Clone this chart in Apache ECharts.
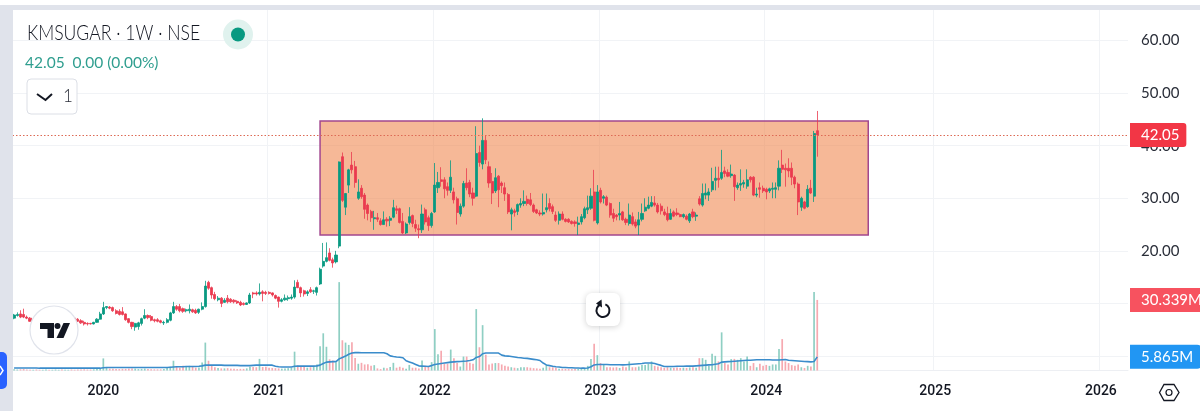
<!DOCTYPE html>
<html>
<head>
<meta charset="utf-8">
<style>
  html, body { margin: 0; padding: 0; background: #fff; }
  #chart { width: 1200px; height: 411px; }
</style>
<script src="https://cdn.jsdelivr.net/npm/echarts@6/dist/echarts.min.js"></script>
</head>
<body>
<div id="chart"></div>
<script>
// weekly bars as [open, close, low, high]
const candles = [
  [7.2,7.8,7,8],[7.7,7.9,7.5,8.3],[8,7.4,7.2,8.7],[7.9,7.4,7.2,9],[7.4,7.2,7,7.7],[7.2,6.6,6.5,7.4],
  [6.6,6.8,6.4,7],[6.8,6.5,6.3,7],[6.5,6.3,6.1,6.7],[6.3,6.5,6.1,6.7],[6.5,6.7,6.3,7],[6.7,6.4,6.2,6.9],[6.4,6.6,6.2,6.8],[6.6,6.9,6.4,7.1],
  [6.9,7.1,6.7,7.3],[7.1,6.9,6.7,7.3],[6.9,7.2,6.7,7.4],[7.2,7.4,7,7.6],[7.4,7.2,7,7.6],[7.2,7.1,6.9,7.4],
  [7,6.6,6.5,7.2],[6.7,6.3,6.1,7],[6.4,6.1,5.8,6.7],[6.2,6.1,5.8,6.4],[6.2,6.1,6,6.3],[6.1,6.4,6,6.5],[6.4,7,6.3,7.2],[7,8,6.9,8.4],
  [8,9.2,7.8,10.3],[9.2,9.4,8.9,9.5],[9.3,9.1,8.9,9.5],[9.2,8.6,8.4,9.4],[8.6,8.1,7.9,8.9],[8.5,7.9,7.7,8.9],[8.4,7.9,7.7,9.3],[8,6.9,6.7,8.1],
  [7.1,6.4,6.2,7.2],[6.4,5.6,5.1,6.5],[5.5,6.2,4.8,6.3],[5.6,6.3,5,6.5],[6.2,7.1,5.8,7.3],[7.2,7.7,7,8.9],[7.7,7.3,7,7.9],[7.5,6.8,6.6,7.8],
  [6.9,6.7,6.4,7.1],[6.9,6.6,6.4,7.2],[6.7,6.4,6.2,6.9],[6.3,6.4,5.9,6.7],[6.4,6.9,6.2,7.2],[6.8,8.2,6.6,8.4],[8.2,9.4,8,10.3],[9.4,8.9,8.6,9.7],
  [9.4,8.6,8.3,9.9],[9,8.5,8.2,9.2],[8.6,8.8,8.3,9],[8.6,8.9,8.1,9.8],[8.8,8.4,8.2,9],[8.7,8.2,8,9],[8.3,8.9,8,9],[8.9,9.4,8.7,10.2],
  [9.4,13.3,9.2,14.3],[14,12.9,12.6,14.3],[13,11.6,10.9,13.2],[11.7,10.9,10.6,12.2],[10.7,11,10.4,11.4],[11,10,9.3,11.2],[10.2,10.6,10.1,11],[11,10.3,10,11.6],
  [10.8,10.3,10.1,11],[10.6,10.3,10,10.8],[10.4,10.1,9.9,10.6],[10.2,9.7,9.5,10.5],[10,9.8,9.6,10.2],[9.8,10.1,9.7,10.2],[10.1,11.6,9.9,12],[12,11.8,11,12.2],
  [12,11.8,11.5,12.3],[11.8,12.1,11.5,13.8],[12.2,11.9,10.4,12.5],[12.1,11.9,11.6,12.4],[12.1,11.9,11.7,12.3],[12,11.6,11.3,12.1],[11.5,11,10.8,11.7],[11.2,10.4,9.2,11.3],
  [10.4,10.7,10.2,11],[10.7,11,10.5,11.7],[10.9,11.1,10.5,11.5],[11,11.2,10.7,11.7],[11.2,13.1,10.9,14.4],[14,13,12.9,14.5],[13,12,11.2,13.2],[12.4,11.8,11.3,12.6],
  [11.9,12.2,11.4,12.5],[12.6,12.2,12,13.1],[12.3,12.4,11.8,12.6],[12.1,13,11.5,13.2],[13.7,16.5,13.5,16.8],[17.1,18,16.8,21.5],[18,18.7,17.8,21.6],[19.6,18.2,18,20.5],
  [18.3,17.7,16.8,18.7],[17.9,19.2,17.6,20],
  [20.9,36.9,20.5,37],[37.9,29.6,29.3,38.7],[28.3,30.9,26.8,31],[32.5,35.4,31,35.6],[36.3,35.4,34.7,38.8],[36,33,32,37.1],[30,31.2,29.7,33.6],[31.9,30.3,29.9,32.5],
  [30.6,27.9,26.1,31],[28.7,27.1,25.8,29],[27.5,26.3,25.5,27.8],[26.1,26.3,24,27.6],[26.3,26,25.5,27.2],[25.7,25,24.8,26.2],[25,25.9,25,27.5],[26,25.7,24.6,26.4],
  [25.8,26.2,24.7,26.6],[26.4,28.2,26.2,29.7],[28,27.7,27,28.6],[28,25.4,25.2,28.2],[25.6,23.4,23.2,27.2],[23.4,25.1,23.2,25.4],[25.4,26.5,25,28.3],[26.7,25.2,24.5,26.9],
  [25,24.3,23.6,25.9],[24.2,24,22.4,25],[24,27,23.4,28.8],[27.8,25.5,25,28.2],[26.3,24.8,23.8,26.7],[24.8,27.1,24.4,27.4],[27.4,32.5,27.2,36.7],[32,33,31,35],
  [33.5,33.2,32.2,35.9],[33.5,31.8,30,34],[32.2,31.5,30.5,33],[31.5,34,31,37.2],[31.2,29.7,29,32],[29.9,27.3,25,30.3],[27,28.5,26.5,29],[28.5,32.8,28.2,33.3],
  [32.9,32,31.5,35.7],[33,30.8,30.2,33.5],[31,30,28.6,32],[30.4,38.5,30.2,43.7],[38.7,36.8,36,40],[36.5,41,35.5,45.2],[41,37.3,36.5,42],[36,32.9,32,37],
  [33.2,31,28.9,34.8],[31.4,33.9,31,35.7],[34.2,31.6,28.3,34.4],[32.9,32.4,31,33.2],[32,30.8,29.5,33],[30.7,27.4,27,31],[27,27.8,23.9,28.2],[27.6,27.3,26.5,28],
  [27.5,28.8,26.8,29],[28.7,29,28.2,30],[29,29.4,28.5,31.5],[29.8,29,28.6,30.5],[29.7,28.8,28.5,31],[28.7,27.5,27.2,29],[27.8,27.2,27,28],[27.2,27,26.6,27.7],
  [27,27.3,26.7,30.9],[27.8,28.2,27.3,30.9],[29,28,27.5,30],[28.4,27.5,27,28.8],[26.8,25.8,25.5,27.5],[25.8,27,25,27.5],[27,26,25.8,27.5],[26,25.6,25.4,26.2],
  [26,25.5,25.3,26.2],[25.6,25.2,25,25.8],[25.5,25.2,24.6,25.8],[25,25.3,23,26.5],[25.5,26.5,25,27],[26.3,28,26,28.4],[27.8,28.2,27,30.5],[28.1,30.4,27.8,31.9],
  [31.2,25.8,25.6,35.4],[25.3,31.2,25,32.5],[31.5,29.3,29,32],[30,30.3,29,30.6],[30.2,28.7,28.5,30.5],[29,26.8,26.3,29.2],[27.1,26.2,25.5,28],[26.8,26.5,25.8,27],
  [26.8,27.1,25.8,29.3],[27.4,25.9,25.7,27.6],[26,25.4,24.9,26.3],[25.2,26.8,24.8,29],[26.5,25.1,24.8,27.3],[25.5,24.7,24.3,26],[24.9,25.9,23,27.4],[26,27.1,25.6,29],
  [27.6,28.3,27.4,30],[28.1,28.7,27.9,30.3],[28.5,29.2,28.3,30.4],[29.1,28.7,28.4,30.4],[28.7,27.4,27.1,29.1],[28.5,27.6,26.9,29],[27.4,26.9,26.6,28],[27.1,25.9,25.6,28.4],
  [26,27.1,25.9,28],[27.4,26.6,26.4,27.7],[27.2,26.9,26.6,28.1],[26.9,26.5,26.4,27.1],[26.5,26.9,26.2,27.1],[26.6,26,25.8,26.9],[25.7,27,25.3,27.2],[27.4,26.5,26.2,28],
  [26.6,26.8,25.7,27.3],[29.9,28.9,28.6,30.4],[28.7,30.9,28.4,32.8],[30.6,31,29.8,32.8],[30.6,31.2,29.5,31.9],[31.6,33.2,31.2,35.8],[33.4,33.8,31.5,36],[33.8,33.5,32,36],
  [33.8,34.9,33.5,39.2],[35.2,34.7,34,36],[34.9,34.2,34,35.5],[34.3,34.6,33.9,36.4],[34.4,32.2,29.5,34.6],[32,32.5,31.6,33],[32.5,32.8,31.4,35.5],[32.7,33,32,33.5],
  [32.3,33.5,31.8,35.5],[34,33.5,33,34.2],[34,30.6,30.4,34.2],[30.6,30.8,30.2,32],[32,31.7,30.1,33],[31.9,31.4,31,32.4],[31.7,31.2,29.8,32],[31.4,31.8,31,32],
  [31.7,31.9,30,33],[31.7,32,30,33],[32.3,35.7,31.5,37.2],[36.3,35.5,34.8,39.2],[35.7,35.4,32.2,36.6],[35.7,35.2,34,37.6],[35.7,34,32.5,36.8],[34,32.7,31.9,34.3],
  [32.7,29.3,26.8,33],[28.3,30,27.6,30.3],[29.3,28.1,27.9,29.5],[28.4,31.7,28.2,32.5],[31.9,31,30.8,33.5],[30.4,42.3,29.3,42.8],[42.85,42.05,37.9,46.6]
];

// volume in millions
const volumes = [
  0.5,0.4,0.5,0.6,0.4,0.3,0.3,0.4,0.3,0.3,0.4,0.3,0.3,0.4,0.3,0.4,0.3,0.3,0.4,0.3,0.4,0.4,0.5,0.4,0.4,0.5,0.6,0.9,
  5.2,1.2,0.8,0.7,0.6,0.6,0.7,0.7,0.8,0.9,0.8,0.6,0.7,0.8,0.6,0.5,0.5,0.5,0.5,0.6,1.1,1.6,4.2,1.6,1.2,2,1.5,2,1.6,1.2,1.3,3.4,
  12,4.2,2.2,1.4,1.1,0.9,0.9,1,0.8,0.8,0.6,0.7,0.7,0.9,1.6,1.5,1.4,5,1.5,1.6,1.2,1.1,1,0.9,0.8,0.9,1,1.2,8.1,2.2,1.6,1.5,1.2,1.4,1.5,2.6,
  10.4,16,10.2,4.8,4.3,3.6,38,13,12,11,12.2,5.4,2.9,3.3,2.6,2.7,2,2.3,0.9,0.6,1.2,1,1.5,3.3,1.2,1.6,1.2,0.7,2.4,1.2,1.2,0.9,4.3,2,1.7,3.6,
  17.8,7,8.5,3,2.9,9,5.3,3.2,1.7,6,6,3.3,2.9,26.4,10,19.5,6.8,2.6,3,3.2,3.2,2.6,2,1.7,1.4,1.2,1,1.4,1.4,1.4,1.2,1,0.9,0.7,1.2,2.5,1.4,1.4,1.2,
  0.8,0.7,0.7,0.6,0.6,0.6,0.7,0.8,1,2,4.9,11.5,6.6,3.2,2.4,1.4,1.4,1.3,1.4,1.1,1.7,1.4,3.9,1.4,1.4,1.7,2.4,2.4,2.9,3.9,2,1.7,1.4,1.1,1.4,1.2,1.1,1.3,1.1,1.2,1.1,1.3,1.4,1.2,
  5.3,5.3,4.6,2,7.2,6.3,3.9,16.4,3.2,2.6,4.9,5,4.6,5.3,3.9,6,2,3.2,1.4,2.9,2,2.4,2,2.6,2.6,9.2,13.5,3.9,3.2,2.3,2,2.6,1.4,1.1,2,1.7,33.8,30.339
];

// 20 week average of the volume, in millions
const volumeAvg = [
  1.1,1.1,1.1,1.1,1.1,1.1,1.1,1.1,1,1,1,1,1,1,1,1,1,1,1,1,1,1,1,1,1,1,1,1,
  1.2,1.3,1.3,1.3,1.3,1.3,1.3,1.3,1.3,1.3,1.3,1.3,1.3,1.3,1.3,1.3,1.3,1.3,1.3,1.3,1.3,1.4,1.5,1.6,1.6,1.6,1.7,1.7,1.7,1.7,1.8,2,
  2.3,2.3,2.3,2.3,2.3,2.3,2.2,2.2,2.2,2.2,2.2,2.1,2.1,2.1,2.1,2.2,2.3,2.3,2.3,2.3,2.3,2.3,1.8,1.6,1.5,1.5,1.5,1.5,1.8,1.9,1.9,1.9,1.9,1.9,1.9,2,
  2.3,3,3.6,3.7,3.8,3.8,5,5.6,6.2,7,7.5,7.7,7.7,7.6,7.6,7.6,7.6,7.6,7.6,7.6,7.6,7.2,6.3,6,5.8,5.7,5.5,4.2,3.7,3.2,2.6,2,1.9,1.8,1.7,2.1,
  2.6,2.8,3,3.2,3.4,3.6,3.7,3.8,3.9,4,4.1,4.3,4.6,5.6,6,7.2,7.5,7.5,7.5,7.5,7.5,6.6,6.3,6.2,6,5.8,5.6,5.5,5.3,5.2,5,4.8,4.6,4.3,3.2,2.4,2.1,1.8,1.6,
  1.5,1.3,1.3,1.2,1.2,1.1,1.1,1,1,1.1,1.6,2.4,2.6,2.6,2.6,2.6,2.5,2.5,2.5,2.5,2.4,2.5,2.6,2.7,2.8,2.9,3,3.2,3.2,3.2,3,2.6,2.2,1.7,1.7,1.7,1.7,1.8,1.8,1.8,1.9,1.9,1.9,2,
  2.1,2.2,2.3,2.4,2.5,2.7,2.9,3.6,3.7,3.8,3.9,4,4.1,4.2,4.3,4.4,4.4,4.5,4.6,4.6,4.6,4.6,4.6,4.5,4.5,4.5,4.6,4.7,4.4,4.3,4.2,4.1,4,3.9,3.8,3.7,3.9,5.865
];

const weekCount = 350;
const firstWeek = Date.UTC(2019, 5, 24);
const weeks = [];
for (let i = 0; i < weekCount; i++) {
  weeks.push(new Date(firstWeek + i * 7 * 86400000).toISOString().slice(0, 10));
}

const priceTicks = ['20.00', '30.00', '40.00', '50.00', '60.00'];
const lastPrice = 42.05;
const lastVolume = 30.339;
const lastAvg = 5.865;
// the drawn rectangle: two weeks and two prices
const boxWeeks = [96, 268];
const boxPrices = [23, 44.7];

const upColor = '#089981';
const downColor = '#ea3a4f';
const textColor = '#131722';
const gridColor = '#f1f3f6';
const bandColor = '#e0e3eb';
const axisFont = 'Lato';

// first bar of a new year gets the tick and the gridline
function isYearStart(index) {
  if (index === 0) return false;
  return weeks[index].slice(0, 4) !== weeks[index - 1].slice(0, 4);
}

const volumeBars = volumes.map(function (v, i) {
  const up = candles[i][1] >= candles[i][0];
  return { value: v, itemStyle: { color: up ? '#8fcfc3' : '#f6a9b0' } };
});

// price tag sitting right of the plot, at the end of a mark line
function tagLabel(text, fill, padding, radius) {
  return {
    position: 'end', distance: 2, align: 'left', verticalAlign: 'middle',
    formatter: text, color: '#fff', backgroundColor: fill,
    fontFamily: axisFont, fontSize: 15, padding: padding, borderRadius: radius
  };
}

const chart = echarts.init(document.getElementById('chart'), null, { renderer: 'canvas' });

chart.setOption({
  animation: false,
  backgroundColor: '#fff',
  textStyle: { fontFamily: 'Lato' },
  grid: [
    { left: 12.5, right: 72, top: 40.5, bottom: 55 },
    { left: 12.5, right: 72, top: 10, bottom: 40.5 }
  ],
  xAxis: [
    {
      type: 'category', gridIndex: 0, data: weeks, boundaryGap: true,
      axisLine: { show: false }, axisTick: { show: false }, axisLabel: { show: false }, splitLine: { show: false }
    },
    {
      type: 'category', gridIndex: 1, data: weeks, boundaryGap: true,
      axisLine: { lineStyle: { color: '#edeff3', width: 1 } },
      axisTick: { show: false, alignWithLabel: true },
      axisLabel: {
        interval: isYearStart,
        formatter: function (value) { return value.slice(0, 4); },
        color: textColor, fontFamily: 'Roboto', fontSize: 14, fontWeight: 500, margin: 14, hideOverlap: false
      },
      splitLine: { show: true, showMinLine: false, showMaxLine: false, interval: isYearStart, lineStyle: { color: gridColor, width: 1 } }
    }
  ],
  yAxis: [
    {
      type: 'value', gridIndex: 0, position: 'right', min: 0, max: 60, interval: 10,
      axisLine: { show: false }, axisTick: { show: false },
      axisLabel: {
        margin: 13, color: '#2a2e39', fontFamily: axisFont, fontSize: 15,
        formatter: function (v) {
          const label = v.toFixed(2);
          return priceTicks.indexOf(label) >= 0 ? label : '';
        }
      },
      splitLine: { lineStyle: { color: gridColor, width: 1 } }
    },
    {
      type: 'value', gridIndex: 1, position: 'right', min: 0, max: 155,
      axisLine: { show: false }, axisTick: { show: false }, axisLabel: { show: false }, splitLine: { show: false }
    }
  ],
  series: [
    {
      name: 'Volume', type: 'bar', xAxisIndex: 1, yAxisIndex: 1, data: volumeBars, barWidth: 1.7, z: 1,
      markLine: {
        silent: true, symbol: 'none', lineStyle: { color: 'transparent' },
        data: [{ yAxis: lastVolume }],
        label: tagLabel(lastVolume.toFixed(3) + 'M', '#f7525f', [5, 8, 4, 11], 0)
      }
    },
    {
      name: 'Volume MA', type: 'line', xAxisIndex: 1, yAxisIndex: 1, data: volumeAvg,
      symbol: 'none', z: 3, lineStyle: { color: '#3a8ccb', width: 1.6 },
      markLine: {
        silent: true, symbol: 'none', lineStyle: { color: 'transparent' },
        data: [{ yAxis: lastAvg }],
        label: tagLabel(lastAvg.toFixed(3) + 'M', '#2196f3', [5, 8, 4, 11], [0, 4, 4, 0])
      }
    },
    {
      name: 'KMSUGAR', type: 'candlestick', xAxisIndex: 0, yAxisIndex: 0, data: candles, barWidth: 2.6, z: 4,
      itemStyle: { color: upColor, color0: downColor, borderColor: upColor, borderColor0: downColor, borderWidth: 0.8 },
      markArea: {
        silent: true,
        itemStyle: { color: 'rgba(240,132,76,0.58)', borderColor: '#a2478f', borderWidth: 1.5 },
        data: [[
          { xAxis: boxWeeks[0], yAxis: boxPrices[0] },
          { xAxis: boxWeeks[1], yAxis: boxPrices[1] }
        ]]
      },
      markLine: {
        silent: true, symbol: 'none',
        lineStyle: { color: '#dd6a55', type: [1.5, 2], width: 1 },
        data: [{ yAxis: lastPrice }],
        label: tagLabel(lastPrice.toFixed(2), '#f23645', [5, 7, 4, 11], [0, 3, 3, 0])
      }
    }
  ],
  graphic: [
    // page chrome around the panel
    { type: 'rect', silent: true, z: 50, shape: { x: 0, y: 5, width: 1200, height: 5 }, style: { fill: bandColor } },
    { type: 'rect', silent: true, z: 50, shape: { x: 0, y: 5, width: 13, height: 406 }, style: { fill: bandColor } },
    { type: 'rect', silent: true, z: 51, shape: { x: 0, y: 352, width: 7, height: 37, r: [0, 5, 5, 0] }, style: { fill: '#2962ff' } },
    { type: 'polyline', silent: true, z: 52, shape: { points: [[0, 366], [3, 370.5], [0, 375]] }, style: { stroke: '#fff', lineWidth: 1.5, fill: null } },
    // header
    { type: 'text', silent: true, z: 60, x: 27, y: 22, scaleX: 0.8, style: { text: 'KMSUGAR · 1W · NSE', fill: textColor, font: '300 22px Lato' } },
    { type: 'circle', silent: true, z: 60, shape: { cx: 238, cy: 34.5, r: 15 }, style: { fill: '#e0f2ee' } },
    { type: 'circle', silent: true, z: 61, shape: { cx: 238, cy: 34.5, r: 7 }, style: { fill: upColor } },
    { type: 'text', silent: true, z: 60, style: { x: 25, y: 55, text: '42.05  0.00 (0.00%)', fill: '#2f9e8f', font: '15.5px Lato' } },
    { type: 'rect', silent: true, z: 60, shape: { x: 27, y: 79, width: 50, height: 35, r: 4 }, style: { fill: '#fff', stroke: '#dcdfe6', lineWidth: 1 } },
    { type: 'polyline', silent: true, z: 61, shape: { points: [[37, 94], [45.5, 100], [52, 94]] }, style: { stroke: textColor, lineWidth: 2, fill: null } },
    { type: 'text', silent: true, z: 61, style: { x: 63, y: 88, text: '1', fill: '#2a2e39', font: '300 17px Lato' } },
    // tradingview badge
    { type: 'circle', silent: true, z: 60, shape: { cx: 54, cy: 330, r: 24 }, style: { fill: '#fff', stroke: '#e0e3eb', lineWidth: 1.2 } },
    { type: 'polygon', silent: true, z: 61, shape: { points: [[40, 323], [54, 323], [54, 338], [47.5, 338], [47.5, 329], [40, 329]] }, style: { fill: textColor } },
    { type: 'circle', silent: true, z: 61, shape: { cx: 57.5, cy: 326, r: 3 }, style: { fill: textColor } },
    { type: 'polygon', silent: true, z: 61, shape: { points: [[63.5, 323], [70, 323], [63.5, 338], [56.5, 338]] }, style: { fill: textColor } },
    // reset button
    { type: 'rect', silent: true, z: 60, shape: { x: 586, y: 293, width: 34, height: 33, r: 6 }, style: { fill: '#fff', shadowBlur: 6, shadowColor: 'rgba(0,0,0,0.18)', shadowOffsetY: 1 } },
    { type: 'arc', silent: true, z: 61, shape: { cx: 603, cy: 310.5, r: 6.5, startAngle: -1.2, endAngle: 4.2, clockwise: true }, style: { stroke: textColor, lineWidth: 2, fill: null } },
    { type: 'polygon', silent: true, z: 61, shape: { points: [[596, 303.5], [601.5, 299.5], [602, 307.5]] }, style: { fill: textColor } },
    // settings
    { type: 'polygon', silent: true, z: 60, shape: { points: [[1159.5, 392.5], [1164, 384.5], [1174, 384.5], [1179, 392.5], [1174, 400.5], [1164, 400.5]] }, style: { fill: '#fff', stroke: textColor, lineWidth: 1.3 } },
    { type: 'circle', silent: true, z: 61, shape: { cx: 1169, cy: 392.5, r: 3 }, style: { fill: '#fff', stroke: textColor, lineWidth: 1.2 } }
  ]
});
</script>
</body>
</html>
